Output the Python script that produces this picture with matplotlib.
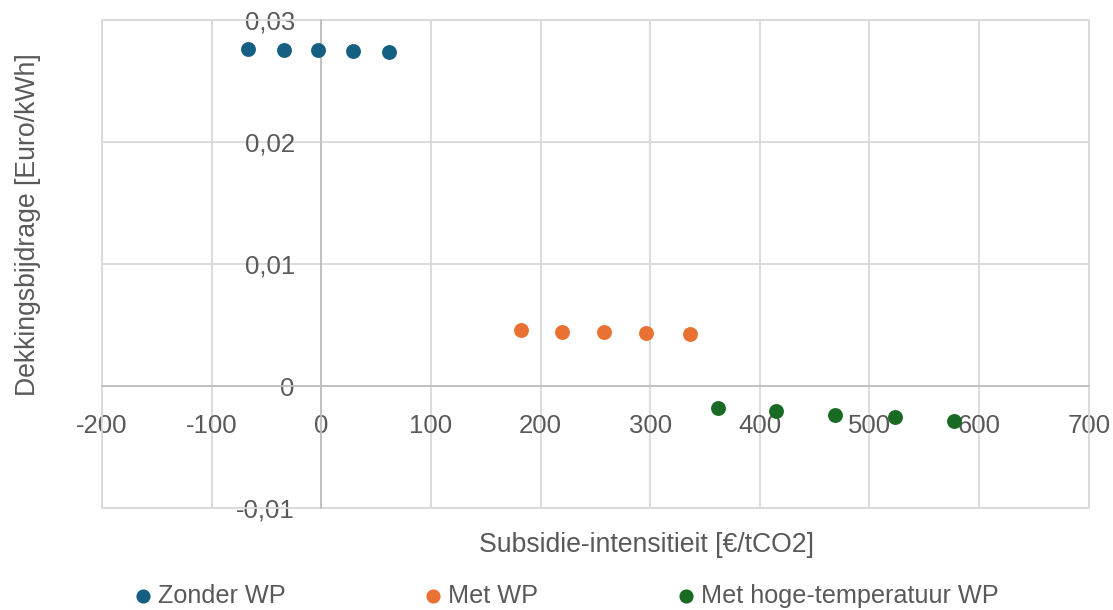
import numpy as np
import matplotlib
matplotlib.use("Agg")
from matplotlib import pyplot as plt
from matplotlib.patches import Rectangle
from matplotlib.ticker import FuncFormatter, MultipleLocator

plt.rcParams['font.family'] = ['Liberation Sans', 'DejaVu Sans']

# Subsidie-intensiteit (EUR/tCO2) vs dekkingsbijdrage (EUR/kWh)
zonder_x = [-67, -34, -3, 29, 62]
zonder_y = [0.02768, 0.02760, 0.02760, 0.02752, 0.02740]
met_x = [182, 220, 258, 296, 336]
met_y = [0.00462, 0.00448, 0.00448, 0.00440, 0.00429]
hoog_x = [362, 415, 469, 523, 577]
hoog_y = [-0.00180, -0.00200, -0.00233, -0.00254, -0.00284]

series = [
    ("Zonder WP", zonder_x, zonder_y, "#156082"),
    ("Met WP", met_x, met_y, "#E97132"),
    ("Met hoge-temperatuur WP", hoog_x, hoog_y, "#196B24"),
]

txt = "#595959"
grid_col = "#d9d9d9"

fig = plt.figure(figsize=(11.13, 6.10), dpi=100)
ax = fig.add_axes([0.0916, 0.1667, 0.8866, 0.7997])

for name, xs, ys, col in series:
    ax.scatter(xs, ys, s=115, color=col, label=name, zorder=3, linewidths=0)

ax.set_xlim(-200, 700)
ax.set_ylim(-0.01, 0.03)
ax.xaxis.set_major_locator(MultipleLocator(100))
ax.yaxis.set_major_locator(MultipleLocator(0.01))

def comma_fmt(v, pos):
    if abs(v) < 1e-9:
        return "0"
    return ("%.2f" % v).replace(".", ",")

ax.yaxis.set_major_formatter(FuncFormatter(comma_fmt))
ax.xaxis.set_major_formatter(FuncFormatter(lambda v, p: "%d" % round(v)))

ax.grid(True, color=grid_col, linewidth=1.3, zorder=0)
ax.set_axisbelow(True)

# axes cross at zero, outer frame drawn as a plain rectangle
ax.spines['left'].set_position(('data', 0))
ax.spines['bottom'].set_position(('data', 0))
for side in ['left', 'bottom']:
    ax.spines[side].set_color("#bfbfbf")
    ax.spines[side].set_linewidth(1.3)
for side in ['top', 'right']:
    ax.spines[side].set_visible(False)
ax.add_patch(Rectangle((0, 0), 1, 1, transform=ax.transAxes, fill=False,
                       edgecolor=grid_col, linewidth=1.3, clip_on=False, zorder=1))

ax.tick_params(axis='both', length=0, labelsize=18.5, labelcolor=txt)
ax.tick_params(axis='y', pad=19)
ax.tick_params(axis='x', pad=20)

ax.set_xlabel("Subsidie-intensitieit [€/tCO2]", fontsize=19.2, color=txt)
ax.xaxis.set_label_coords(0.552, -0.048)
ax.set_ylabel("Dekkingsbijdrage [Euro/kWh]", fontsize=19.2, color=txt)
ax.yaxis.set_label_coords(-0.062, 0.581)

fig.legend(loc='center', bbox_to_anchor=(0.510, 0.023), ncol=3, frameon=False,
           fontsize=18.2, labelcolor=txt, handlelength=0.5, handletextpad=0.35,
           columnspacing=5.6, markerscale=0.95, borderpad=0)

fig.savefig("out.png", dpi=100)
